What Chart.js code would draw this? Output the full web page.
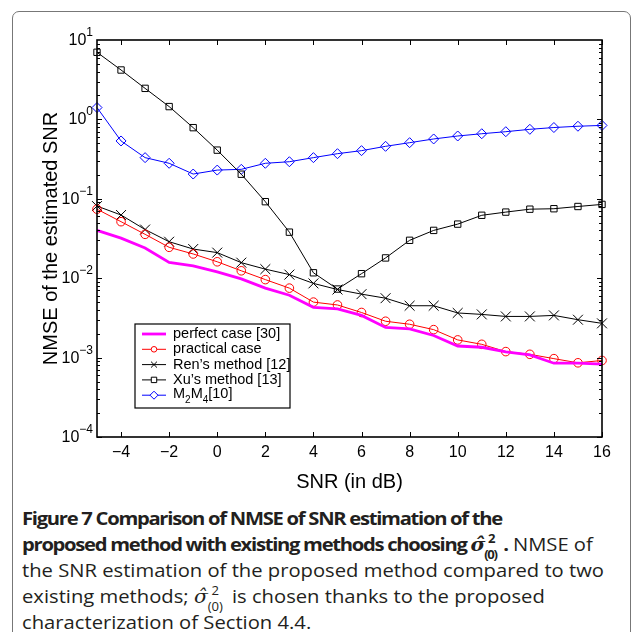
<!DOCTYPE html>
<html>
<head>
<meta charset="utf-8">
<script src="https://cdn.jsdelivr.net/npm/chart.js@4.4.1/dist/chart.umd.min.js"></script>
<style>
  body { margin: 0; background: #fff; width: 633px; height: 632px; overflow: hidden; position: relative; }
  #frame { position: absolute; left: 12px; top: 11px; width: 617px; height: 680px; border: 1px solid #777; border-radius: 7px; }
  #c { position: absolute; left: 0; top: 0; }
  #caption { position: absolute; left: 22px; top: 505px; font-family: "Open Sans", sans-serif; font-size: 18px; line-height: 26px; color: #231f20; white-space: nowrap; transform-origin: 0 0; }
  #caption > div { height: 26px; }
  #caption b { font-weight: 700; }
  .hat { font-style: italic; font-family: "DejaVu Serif", serif; }
  .ss { display: inline-block; position: relative; width: 1.45em; height: 0; font-size: 0.65em; }
  .ss .sup { position: absolute; left: 0.3em; bottom: 0.55em; line-height: 1; }
  .ss .sub { position: absolute; left: 0; top: -0.15em; line-height: 1; }
</style>
</head>
<body>
<div id="frame"></div>
<canvas id="c" width="633" height="500"></canvas>
<div id="caption">
  <div id="l1"><b>Figure 7 Comparison of NMSE of SNR estimation of the</b></div>
  <div><b>proposed method with existing methods choosing <span class="hat">σ̂</span><span class="ss"><span class="sup">2</span><span class="sub">(0)</span></span>.</b> NMSE of</div>
  <div id="l3">the SNR estimation of the proposed method compared to two</div>
  <div>existing methods; <span class="hat">σ̂</span><span class="ss"><span class="sup">2</span><span class="sub">(0)</span></span> is chosen thanks to the proposed</div>
  <div>characterization of Section 4.4.</div>
</div>
<script>
// SNR (dB) sampled at every integer
var snr = [-5, -4, -3, -2, -1, 0, 1, 2, 3, 4, 5, 6, 7, 8, 9, 10, 11, 12, 13, 14, 15, 16];

var perfectCase = [0.040, 0.032, 0.024, 0.0158, 0.0143, 0.0120, 0.0098, 0.0075, 0.0061, 0.0043, 0.0041,
                   0.0034, 0.0024, 0.0023, 0.0019, 0.0014, 0.00135, 0.00118, 0.00108, 0.00085, 0.00085, 0.00083];
var practicalCase = [0.074, 0.0515, 0.0357, 0.0245, 0.0202, 0.0161, 0.0124, 0.0096, 0.0075, 0.0050, 0.0046,
                     0.0037, 0.00287, 0.00263, 0.00225, 0.00167, 0.00147, 0.00119, 0.0011, 0.00097, 0.00086, 0.00092];
var renMethod = [0.081, 0.0625, 0.041, 0.0288, 0.0233, 0.021, 0.0157, 0.013, 0.0111, 0.0086, 0.0072,
                 0.0063, 0.0056, 0.0045, 0.0045, 0.00365, 0.0035, 0.0033, 0.0033, 0.0034, 0.0030, 0.0027];
var xuMethod = [7.0, 4.19, 2.46, 1.45, 0.787, 0.41, 0.204, 0.092, 0.038, 0.0117, 0.0073,
                0.0114, 0.018, 0.030, 0.040, 0.048, 0.062, 0.068, 0.074, 0.075, 0.080, 0.085];
var m2m4 = [1.41, 0.535, 0.33, 0.28, 0.205, 0.23, 0.235, 0.28, 0.293, 0.33, 0.37,
            0.404, 0.458, 0.509, 0.567, 0.618, 0.66, 0.70, 0.75, 0.79, 0.82, 0.84];

var xTicks = [-4, -2, 0, 2, 4, 6, 8, 10, 12, 14, 16];
var yTicks = [1e-4, 1e-3, 1e-2, 1e-1, 1, 10];
var legendLabels = ['perfect case [30]', 'practical case', 'Ren\u2019s method [12]', 'Xu\u2019s method [13]', 'M2M4[10]'];

var FONT = '"Liberation Sans", Arial, sans-serif';

function pts(ys) {
    return snr.map(function (x, i) { return { x: x, y: ys[i] }; });
}

// inward ticks, box and log tick labels, MATLAB style
var axesBox = {
    id: 'axesBox',
    afterDatasetsDraw: function (chart) {
        var ctx = chart.ctx, a = chart.chartArea;
        var xs = chart.scales.x, ys = chart.scales.y;
        ctx.save();
        ctx.strokeStyle = '#000';
        ctx.lineWidth = 1;
        ctx.beginPath();
        xTicks.forEach(function (v) {
            var px = Math.round(xs.getPixelForValue(v)) + 0.5;
            ctx.moveTo(px, a.bottom); ctx.lineTo(px, a.bottom - 5);
            ctx.moveTo(px, a.top); ctx.lineTo(px, a.top + 5);
        });
        for (var e = -4; e < 1; e++) {
            for (var m = 1; m < 10; m++) {
                var py = Math.round(ys.getPixelForValue(m * Math.pow(10, e))) + 0.5;
                var len = m === 1 ? 5 : 3;
                ctx.moveTo(a.left, py); ctx.lineTo(a.left + len, py);
                ctx.moveTo(a.right, py); ctx.lineTo(a.right - len, py);
            }
        }
        ctx.stroke();
        ctx.lineWidth = 1.6;
        ctx.strokeRect(a.left, a.top, a.right - a.left, a.bottom - a.top);

        // y tick labels 10^n
        ctx.fillStyle = '#000';
        ctx.textBaseline = 'alphabetic';
        yTicks.forEach(function (v) {
            var n = Math.round(Math.log10(v));
            var expTxt = n < 0 ? '\u2212' + (-n) : String(n);
            var py = ys.getPixelForValue(v);
            ctx.font = '12px ' + FONT;
            var ew = ctx.measureText(expTxt).width;
            ctx.font = '16px ' + FONT;
            var bw = ctx.measureText('10').width;
            var right = a.left - 4;
            ctx.fillText('10', right - ew - bw, py + 5);
            ctx.font = '12px ' + FONT;
            ctx.fillText(expTxt, right - ew, py - 4);
        });
        ctx.restore();
    },
    afterDraw: function (chart) {
        var ctx = chart.ctx;
        var bx = 135, by = 324, bw = 155, bh = 84, row = 15.3;
        var markScale = { circle: 0.65, crossRot: 0.6, rect: 0.85, rectRot: 0.8 };
        ctx.save();
        ctx.fillStyle = '#fff';
        ctx.fillRect(bx, by, bw, bh);
        ctx.strokeStyle = '#000';
        ctx.lineWidth = 1.2;
        ctx.strokeRect(bx, by, bw, bh);
        ctx.textBaseline = 'middle';
        chart.data.datasets.forEach(function (ds, i) {
            var yy = by + 10 + i * row;
            ctx.strokeStyle = ds.borderColor;
            ctx.lineWidth = ds.borderWidth;
            ctx.beginPath();
            ctx.moveTo(bx + 7, yy); ctx.lineTo(bx + 31, yy);
            ctx.stroke();
            if (ds.pointRadius > 0) {
                ctx.fillStyle = '#fff';
                ctx.lineWidth = 1;
                Chart.helpers.drawPoint(ctx, { pointStyle: ds.pointStyle, radius: ds.pointRadius * markScale[ds.pointStyle], rotation: 0, borderWidth: 1 }, bx + 19, yy);
            }
            ctx.fillStyle = '#000';
            var tx = bx + 38;
            var lab = legendLabels[i];
            ctx.font = '14.5px ' + FONT;
            if (lab === 'M2M4[10]') {
                ctx.fillText('M', tx, yy - 1); tx += ctx.measureText('M').width;
                ctx.font = '10px ' + FONT;
                ctx.fillText('2', tx, yy + 5); tx += ctx.measureText('2').width;
                ctx.font = '14.5px ' + FONT;
                ctx.fillText('M', tx, yy - 1); tx += ctx.measureText('M').width;
                ctx.font = '10px ' + FONT;
                ctx.fillText('4', tx, yy + 5); tx += ctx.measureText('4').width;
                ctx.font = '14.5px ' + FONT;
                ctx.fillText('[10]', tx, yy - 1);
            } else {
                ctx.fillText(lab, tx, yy);
            }
        });
        ctx.restore();
    }
};

var chart = new Chart(document.getElementById('c'), {
    type: 'line',
    data: {
        datasets: [
            { label: legendLabels[0], data: pts(perfectCase), borderColor: '#ff00ff', borderWidth: 2.8, pointRadius: 0 },
            { label: legendLabels[1], data: pts(practicalCase), borderColor: '#ff0000', borderWidth: 1, pointStyle: 'circle', pointRadius: 4.3 },
            { label: legendLabels[2], data: pts(renMethod), borderColor: '#000000', borderWidth: 1, pointStyle: 'crossRot', pointRadius: 7 },
            { label: legendLabels[3], data: pts(xuMethod), borderColor: '#000000', borderWidth: 1, pointStyle: 'rect', pointRadius: 4.5 },
            { label: legendLabels[4], data: pts(m2m4), borderColor: '#0000ff', borderWidth: 1, pointStyle: 'rectRot', pointRadius: 5 }
        ].map(function (d) {
            d.pointBackgroundColor = 'rgba(0,0,0,0)';
            d.pointBorderColor = d.borderColor;
            d.pointBorderWidth = 1;
            d.pointHoverRadius = d.pointRadius;
            d.tension = 0;
            d.fill = false;
            d.clip = false;
            return d;
        })
    },
    options: {
        responsive: false,
        animation: false,
        devicePixelRatio: 1,
        layout: { padding: { left: 35, right: 31, top: 40, bottom: 2 } },
        plugins: { legend: { display: false }, tooltip: { enabled: false } },
        scales: {
            x: {
                type: 'linear', min: -5, max: 16,
                afterBuildTicks: function (s) { s.ticks = xTicks.map(function (v) { return { value: v }; }); },
                afterFit: function (s) { s.height = 61; },
                grid: { display: false, drawTicks: false },
                border: { display: false },
                ticks: {
                    padding: 6, color: '#000', font: { family: FONT, size: 16 },
                    callback: function (v) { return v < 0 ? '\u2212' + Math.abs(v) : String(v); }
                },
                title: { display: true, text: 'SNR (in dB)', color: '#000', font: { family: FONT, size: 20 }, padding: { top: 4, bottom: 4 } }
            },
            y: {
                type: 'logarithmic', min: 1e-4, max: 10,
                afterBuildTicks: function (s) { s.ticks = yTicks.map(function (v) { return { value: v }; }); },
                afterFit: function (s) { s.width = 62; },
                grid: { display: false, drawTicks: false },
                border: { display: false },
                ticks: { display: false },
                title: { display: true, text: 'NMSE of the estimated SNR', color: '#000', font: { family: FONT, size: 20 }, padding: { top: 4, bottom: 4 } }
            }
        }
    },
    plugins: [axesBox]
});

// squeeze the caption to the width of the original typesetting
function textWidth(el) {
    var r = document.createRange();
    r.selectNodeContents(el);
    return r.getBoundingClientRect().width;
}
var cap = document.getElementById('caption');
var s = 582 / textWidth(document.getElementById('l3'));
var l1 = document.getElementById('l1');
var bold = l1.querySelector('b');
var n = bold.textContent.length;
var extra = (480 / s - textWidth(l1)) / n;
Array.prototype.forEach.call(cap.querySelectorAll('b'), function (b) { b.style.letterSpacing = extra + 'px'; });
cap.style.transform = 'scaleX(' + s + ')';
</script>
</body>
</html>
